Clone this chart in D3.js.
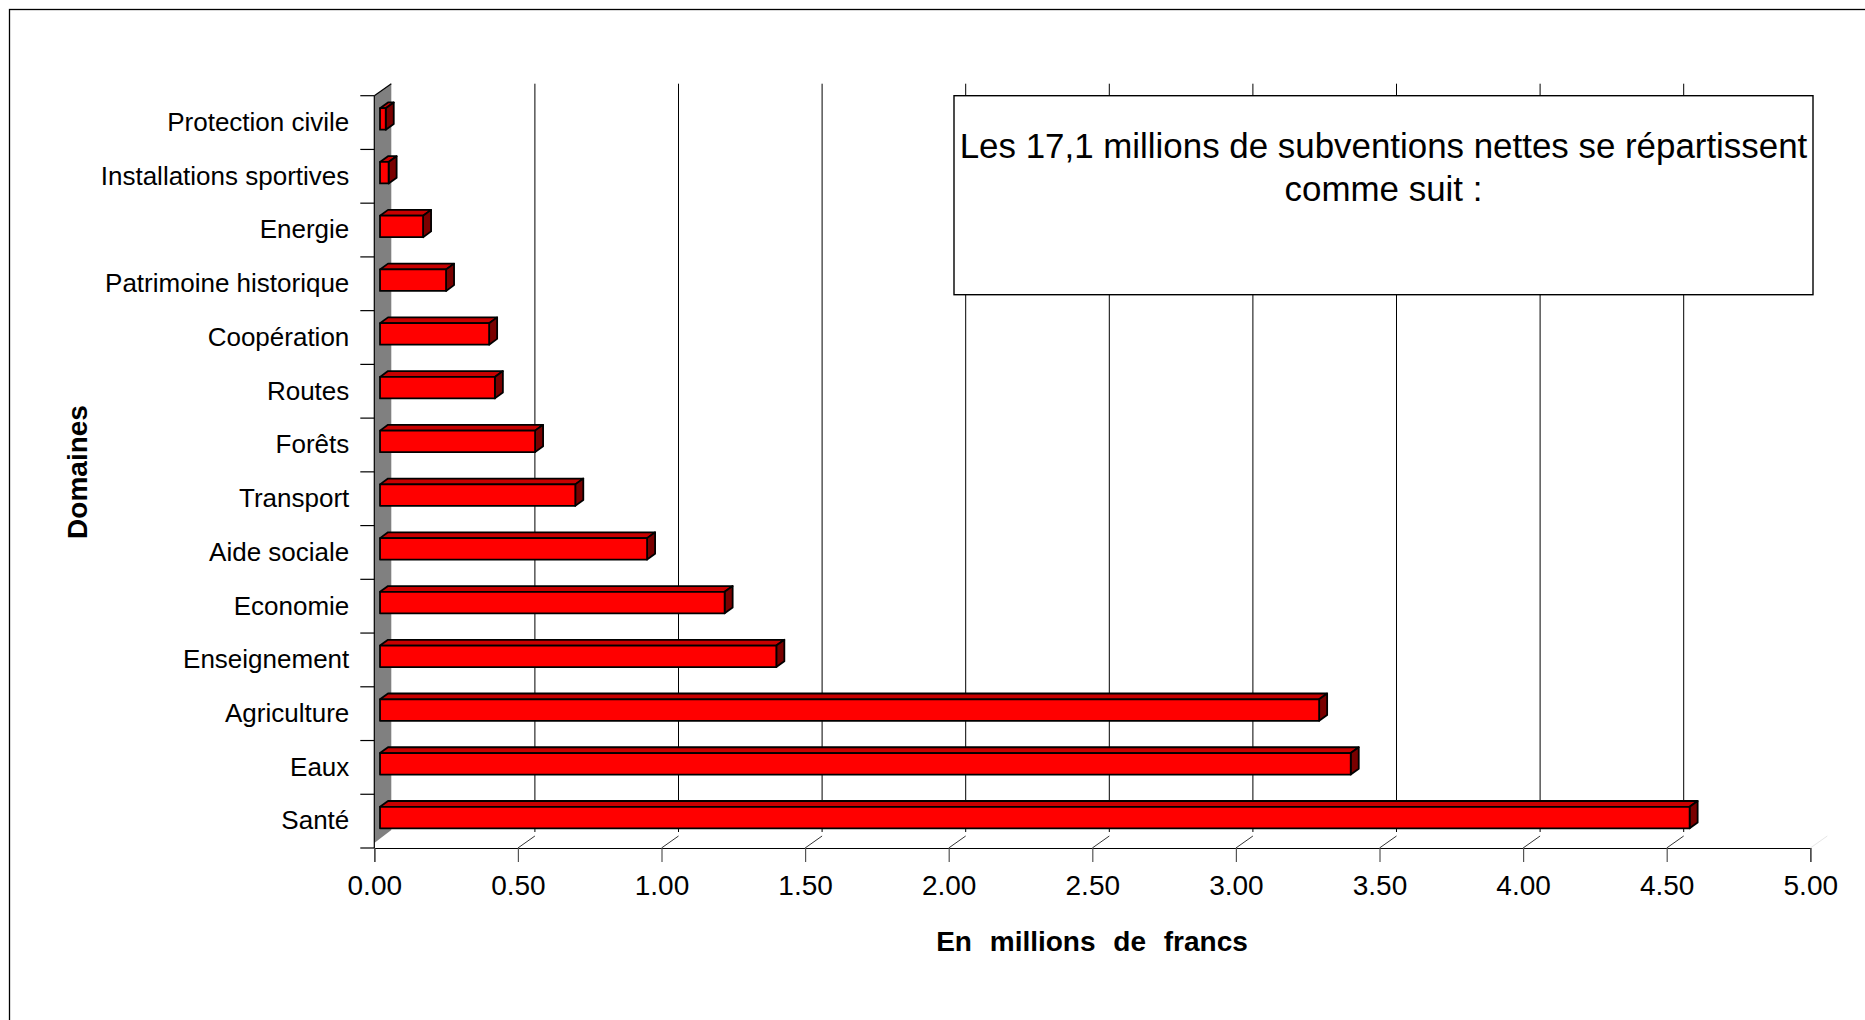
<!DOCTYPE html>
<html>
<head>
<meta charset="utf-8">
<script src="https://cdn.jsdelivr.net/npm/d3@7"></script>
<style>
  html, body { margin: 0; padding: 0; background: #fff; }
  svg { display: block; font-family: "Liberation Sans", Arial, sans-serif; }
</style>
</head>
<body>
<svg id="chart" width="1865" height="1020"></svg>
<script>
// Subventions nettes par domaine, en millions de francs
const categories = [
  "Protection civile", "Installations sportives", "Energie", "Patrimoine historique",
  "Coopération", "Routes", "Forêts", "Transport", "Aide sociale", "Economie",
  "Enseignement", "Agriculture", "Eaux", "Santé"
];
const values = [0.02, 0.03, 0.15, 0.23, 0.38, 0.40, 0.54, 0.68, 0.93, 1.20, 1.38, 3.27, 3.38, 4.56];
const xTicks = [0, 0.5, 1, 1.5, 2, 2.5, 3, 3.5, 4, 4.5, 5];
const xTitle = "En millions de francs";
const yTitle = "Domaines";
const noteLines = ["Les 17,1 millions de subventions nettes se répartissent", "comme suit :"];

const svg = d3.select("#chart");

// plot geometry (front plane), and the oblique depth of the 3D box
const X0 = 374.3, TOP = 95.7, AXIS_Y = 848;
const DEPTH = { dx: 17, dy: -12 };
const BAR_OFF = { dx: 5.7, dy: -3.6 };
const BAR_DEPTH = { dx: 8, dy: -5.8 };

const x = d3.scaleLinear().domain([0, 5]).range([0, 1436]);
const y = d3.scaleBand().domain(categories).range([TOP, AXIS_Y]).paddingInner(0).paddingOuter(0);
const barH = y.bandwidth() * 0.4;

// outer frame
svg.append("rect")
  .attr("x", 9.5).attr("y", 9.5).attr("width", 1900).attr("height", 1100)
  .attr("fill", "none").attr("stroke", "#000").attr("stroke-width", 1.3);

// back-wall gridlines
const grid = svg.append("g");
grid.selectAll("line.grid")
  .data(xTicks.filter(v => v > 0 && v < 5))
  .join("line")
  .attr("class", "grid")
  .attr("x1", v => X0 + DEPTH.dx + x(v)).attr("x2", v => X0 + DEPTH.dx + x(v))
  .attr("y1", TOP + DEPTH.dy).attr("y2", AXIS_Y - 16)
  .attr("stroke", "#000").attr("stroke-width", 1);

// floor depth lines at each tick
grid.selectAll("line.depth")
  .data(xTicks.filter(v => v > 0))
  .join("line")
  .attr("class", "depth")
  .attr("x1", v => X0 + x(v)).attr("y1", AXIS_Y)
  .attr("x2", v => X0 + x(v) + DEPTH.dx).attr("y2", AXIS_Y + DEPTH.dy)
  .attr("stroke", v => v === 5 ? "#e6e6e6" : "#333").attr("stroke-width", 1);

// side wall
svg.append("polygon")
  .attr("points", [
    [X0, TOP], [X0 + DEPTH.dx, TOP + DEPTH.dy],
    [X0 + DEPTH.dx, AXIS_Y - 18], [X0, AXIS_Y - 5]
  ].map(p => p.join(",")).join(" "))
  .attr("fill", "#808080");
svg.append("line")
  .attr("x1", X0).attr("y1", TOP).attr("x2", X0 + DEPTH.dx).attr("y2", TOP + DEPTH.dy)
  .attr("stroke", "#000").attr("stroke-width", 1.2);
svg.append("line")
  .attr("x1", X0).attr("y1", TOP).attr("x2", X0).attr("y2", AXIS_Y)
  .attr("stroke", "#000").attr("stroke-width", 1.2);

// category ticks on band boundaries
svg.append("g").selectAll("line")
  .data(categories.map(c => y(c)).concat([AXIS_Y]))
  .join("line")
  .attr("x1", X0 - 14).attr("x2", X0)
  .attr("y1", d => d).attr("y2", d => d)
  .attr("stroke", "#000").attr("stroke-width", 1.2);

// note box
const bx = 954, by = 95.7, bw = 859, bh = 199;
svg.append("rect")
  .attr("x", bx).attr("y", by).attr("width", bw).attr("height", bh)
  .attr("fill", "#fff").attr("stroke", "#000").attr("stroke-width", 1.4);
svg.append("g").selectAll("text")
  .data(noteLines)
  .join("text")
  .attr("x", bx + bw / 2)
  .attr("y", (d, i) => 145 + i * 43)
  .attr("text-anchor", "middle")
  .attr("dominant-baseline", "central")
  .attr("font-size", 34.9)
  .attr("fill", "#000")
  .text(d => d);

// 3D bars
const bars = svg.append("g").selectAll("g")
  .data(categories.map((c, i) => ({ c, v: values[i] })))
  .join("g");

function face(d, which) {
  const L = X0 + BAR_OFF.dx;
  const T = y(d.c) + y.bandwidth() / 2 + BAR_OFF.dy - barH / 2;
  const W = x(d.v), H = barH, a = BAR_DEPTH.dx, b = BAR_DEPTH.dy;
  let pts;
  if (which === "front") pts = [[L, T], [L + W, T], [L + W, T + H], [L, T + H]];
  else if (which === "top") pts = [[L, T], [L + a, T + b], [L + W + a, T + b], [L + W, T]];
  else pts = [[L + W, T], [L + W + a, T + b], [L + W + a, T + H + b], [L + W, T + H]];
  return pts.map(p => p.join(",")).join(" ");
}
const faceFill = { top: "#c80000", side: "#7a0000", front: "#ff0000" };
["top", "side", "front"].forEach(k => {
  bars.append("polygon")
    .attr("points", d => face(d, k))
    .attr("fill", faceFill[k])
    .attr("stroke", "#000")
    .attr("stroke-width", 1.8)
    .attr("stroke-linejoin", "round");
});

// category labels
svg.append("g")
  .attr("transform", `translate(${X0},0)`)
  .call(d3.axisLeft(y).tickSize(0).tickPadding(25))
  .call(g => g.select(".domain").remove())
  .call(g => g.selectAll("text")
    .attr("font-size", 26)
    .attr("font-family", "Liberation Sans, Arial, sans-serif")
    .attr("fill", "#000"));

// value axis
svg.append("g")
  .attr("transform", `translate(${X0},${AXIS_Y})`)
  .call(d3.axisBottom(x).tickValues(xTicks).tickFormat(d3.format(".2f")).tickSize(14).tickPadding(13))
  .call(g => g.select(".domain").attr("stroke", "#000").attr("stroke-width", 1.2))
  .call(g => g.selectAll(".tick line").attr("stroke", "#555").attr("stroke-width", 1.2))
  .call(g => g.selectAll("text")
    .attr("font-size", 28)
    .attr("font-family", "Liberation Sans, Arial, sans-serif")
    .attr("fill", "#000"));

// axis titles
svg.append("text")
  .attr("x", 1092).attr("y", 941)
  .attr("text-anchor", "middle").attr("dominant-baseline", "central")
  .attr("font-size", 28).attr("font-weight", "bold")
  .style("word-spacing", "10px")
  .text(xTitle);
svg.append("text")
  .attr("transform", "translate(77,472) rotate(-90)")
  .attr("text-anchor", "middle").attr("dominant-baseline", "central")
  .attr("font-size", 28).attr("font-weight", "bold")
  .text(yTitle);
</script>
</body>
</html>
